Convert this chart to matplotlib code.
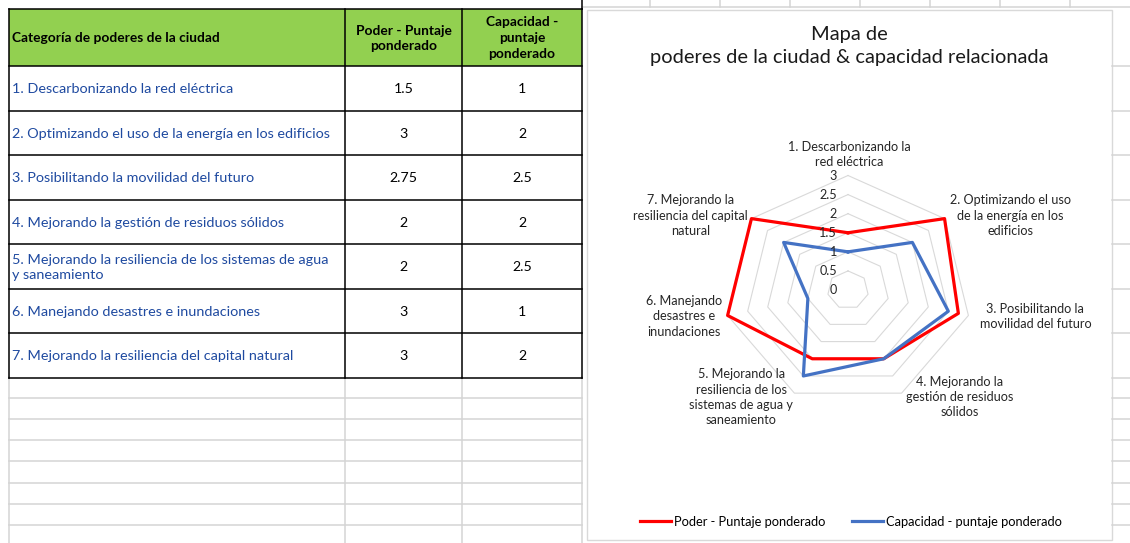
import numpy as np
import matplotlib
matplotlib.use("Agg")
import matplotlib.pyplot as plt
from matplotlib.patches import Rectangle
import textwrap

plt.rcParams["font.family"] = ["Lato", "DejaVu Sans"]

# data
categories = [
    "1. Descarbonizando la red eléctrica",
    "2. Optimizando el uso de la energía en los edificios",
    "3. Posibilitando la movilidad del futuro",
    "4. Mejorando la gestión de residuos sólidos",
    "5. Mejorando la resiliencia de los sistemas de agua y saneamiento",
    "6. Manejando desastres e inundaciones",
    "7. Mejorando la resiliencia del capital natural",
]
radar_labels = [
    "1. Descarbonizando la\nred eléctrica",
    "2. Optimizando el uso\nde la energía en los\nedificios",
    "3. Posibilitando la\nmovilidad del futuro",
    "4. Mejorando la\ngestión de residuos\nsólidos",
    "5. Mejorando la\nresiliencia de los\nsistemas de agua y\nsaneamiento",
    "6. Manejando\ndesastres e\ninundaciones",
    "7. Mejorando la\nresiliencia del capital\nnatural",
]
poder = [1.5, 3, 2.75, 2, 2, 3, 3]
capacidad = [1, 2, 2.5, 2, 2.5, 1, 2]
header = ["Categoría de poderes de la ciudad", "Poder - Puntaje\nponderado",
          "Capacidad -\npuntaje\nponderado"]
series_names = ["Poder - Puntaje ponderado", "Capacidad - puntaje ponderado"]
r_ticks = [0, 0.5, 1, 1.5, 2, 2.5, 3]
chart_title = "Mapa de\npoderes de la ciudad & capacidad relacionada"

W, H = 1130, 543
fig = plt.figure(figsize=(W / 100, H / 100), dpi=100)
bg = fig.add_axes([0, 0, 1, 1])
bg.set_xlim(0, W)
bg.set_ylim(H, 0)
bg.axis("off")

grid_c = "#D4D4D4"
blue_txt = "#1F4AA0"
txt_c = "#262626"

# spreadsheet gridlines
col_x = [9, 345, 462, 582]
low_rows = [398, 419, 440, 461, 483, 504, 525]
for y in low_rows:
    bg.plot([col_x[0], col_x[-1]], [y, y], color=grid_c, lw=1.1)
for x in col_x:
    bg.plot([x, x], [377, H], color=grid_c, lw=1.1)
bg.plot([582, W], [7, 7], color=grid_c, lw=1.1)
for x in [650, 720, 790, 860, 930, 1000, 1070]:
    bg.plot([x, x], [0, 7], color=grid_c, lw=1.1)

# table
top, head_bot, row_h = 9, 66, 44.5
bg.add_patch(Rectangle((col_x[0], top), col_x[-1] - col_x[0], head_bot - top,
                       facecolor="#92D050", edgecolor="none"))
row_edges = [head_bot + i * row_h for i in range(len(categories) + 1)]
for y in row_edges + low_rows:
    bg.plot([1112, W], [y, y], color=grid_c, lw=1.1)
for y in [top] + row_edges:
    bg.plot([col_x[0], col_x[-1]], [y, y], color="black", lw=1.1)
for x in col_x:
    bg.plot([x, x], [top, row_edges[-1]], color="black", lw=1.1)
bg.plot([col_x[-1], col_x[-1]], [0, top], color="black", lw=1.1)

hy = (top + head_bot) / 2
bg.text(col_x[0] + 3, hy + 1, header[0], fontsize=9.9, fontweight="bold",
        va="center", ha="left")
bg.text((col_x[1] + col_x[2]) / 2, hy + 1, header[1], fontsize=9.9,
        fontweight="bold", va="center", ha="center", linespacing=1.3)
bg.text((col_x[2] + col_x[3]) / 2, hy + 1, header[2], fontsize=9.9,
        fontweight="bold", va="center", ha="center", linespacing=1.4)

for i, (cat, p, c) in enumerate(zip(categories, poder, capacidad)):
    yc = (row_edges[i] + row_edges[i + 1]) / 2
    bg.text(col_x[0] + 3, yc + 1, textwrap.fill(cat, 52), fontsize=10.4,
            color=blue_txt, va="center", ha="left", linespacing=1.35)
    bg.text((col_x[1] + col_x[2]) / 2, yc + 1, f"{p:g}", fontsize=10.2,
            va="center", ha="center")
    bg.text((col_x[2] + col_x[3]) / 2, yc + 1, f"{c:g}", fontsize=10.2,
            va="center", ha="center")

# chart box
bg.add_patch(Rectangle((587, 10), 1112 - 587, 530, facecolor="white",
                       edgecolor="#D9D9D9", lw=1.0))
bg.text(849, 46, chart_title, fontsize=14.4, ha="center", va="center",
        linespacing=1.4, color="#1A1A1A")

# radar chart
cx, cy, rx, ry = 848, 290, 123.5, 114.5
ax = fig.add_axes([(cx - rx) / W, (H - cy - ry) / H, 2 * rx / W, 2 * ry / H],
                  projection="polar")
ax.set_aspect("auto")
ax.set_theta_zero_location("N")
ax.set_theta_direction(-1)
ax.set_ylim(0, 3)
ax.axis("off")

n = len(categories)
theta = np.linspace(0, 2 * np.pi, n, endpoint=False)
theta_c = np.append(theta, theta[0])

for v in r_ticks[1:]:
    ax.plot(theta_c, [v] * (n + 1), color="#D9D9D9", lw=0.8, clip_on=False)
for v in r_ticks:
    ax.annotate(f"{v:g}", xy=(0, v), xytext=(-8, 0), textcoords="offset points",
                ha="right", va="center", fontsize=9.1, color=txt_c)

ax.plot(theta_c, poder + poder[:1], color="#FF0000", lw=2.3, clip_on=False,
        label=series_names[0])
ax.plot(theta_c, capacidad + capacidad[:1], color="#4472C4", lw=2.3,
        clip_on=False, label=series_names[1])

label_offsets = [(1, 21), (66, 3), (67, -1), (58, -4), (-53, -4), (-44, -1), (-61, 3)]
for t, lab, (dx, dy) in zip(theta, radar_labels, label_offsets):
    ax.annotate(lab, xy=(t, 3), xytext=(dx * 0.72, dy * 0.72),
                textcoords="offset points", ha="center", va="center",
                multialignment="center", fontsize=9.1, linespacing=1.33,
                color=txt_c)

fig.legend(loc="center", bbox_to_anchor=(851 / W, 1 - 522 / H), ncol=2,
           frameon=False, fontsize=9.3, handlelength=2.4, handletextpad=0.2,
           columnspacing=2.1)

fig.savefig("out.png", dpi=100, facecolor="white")
